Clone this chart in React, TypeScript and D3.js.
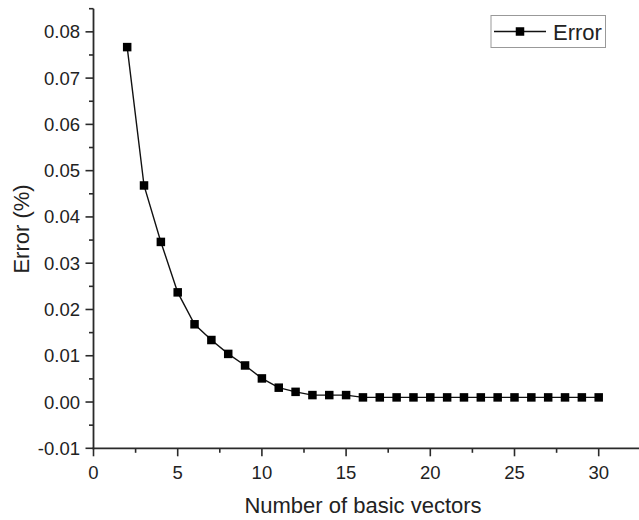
import React from "react";
import * as d3 from "d3";

const xValues = [2, 3, 4, 5, 6, 7, 8, 9, 10, 11, 12, 13, 14, 15, 16, 17, 18, 19, 20, 21, 22, 23, 24, 25, 26, 27, 28, 29, 30];
const errorValues = [
  0.0767, 0.0468, 0.0346, 0.0237, 0.0168, 0.0134, 0.0104, 0.0079, 0.0051, 0.0031, 0.0022,
  0.0015, 0.0015, 0.0015,
  0.001, 0.001, 0.001, 0.001, 0.001, 0.001, 0.001, 0.001, 0.001, 0.001, 0.001, 0.001, 0.001, 0.001, 0.001,
];
const xMajorTicks = [0, 5, 10, 15, 20, 25, 30];
const xMinorTicks = [2.5, 7.5, 12.5, 17.5, 22.5, 27.5, 32.5];
const yMajorTicks = [-0.01, 0, 0.01, 0.02, 0.03, 0.04, 0.05, 0.06, 0.07, 0.08];
const yMinorTicks = [-0.005, 0.005, 0.015, 0.025, 0.035, 0.045, 0.055, 0.065, 0.075, 0.085];
const seriesName = "Error";
const xTitle = "Number of basic vectors";
const yTitle = "Error (%)";

const W = 639;
const H = 520;
const FONT = "'Liberation Sans', Arial, sans-serif";

const fmtY = (t: number) => d3.format(".2f")(t).replace("\u2212", "-");

export default function App() {
  const x = d3.scaleLinear().domain([0, 32.5]).range([93.5, 640.8]);
  const y = d3.scaleLinear().domain([-0.01, 0.085]).range([448.3, 8.7]);
  const data = xValues.map((v, i) => ({ x: v, y: errorValues[i] }));
  const line = d3
    .line<{ x: number; y: number }>()
    .x((d) => x(d.x))
    .y((d) => y(d.y));
  const axisColor = "#2a2a2a";
  const ms = 8.5;

  return (
    <svg
      width={W}
      height={H}
      style={{ position: "absolute", left: 0, top: 0, background: "#fff" }}
      fontFamily={FONT}
    >
      {/* data line */}
      <path d={line(data) || ""} fill="none" stroke="#111" strokeWidth={1.4} />
      {data.map((d, i) => (
        <rect key={i} x={x(d.x) - ms / 2} y={y(d.y) - ms / 2} width={ms} height={ms} fill="#000" />
      ))}

      {/* y axis */}
      <line x1={x(0)} x2={x(0)} y1={y(-0.01) + 1} y2={y(0.085)} stroke={axisColor} strokeWidth={1.8} />
      {yMajorTicks.map((t) => (
        <g key={"ym" + t}>
          <line x1={x(0) - 8} x2={x(0)} y1={y(t)} y2={y(t)} stroke={axisColor} strokeWidth={1.6} />
          <text x={80} y={y(t)} dy="0.35em" textAnchor="end" fontSize={18.5} fill="#222">
            {fmtY(t)}
          </text>
        </g>
      ))}
      {yMinorTicks.map((t) => (
        <line key={"yn" + t} x1={x(0) - 4.5} x2={x(0)} y1={y(t)} y2={y(t)} stroke={axisColor} strokeWidth={1.6} />
      ))}

      {/* x axis */}
      <line x1={x(0) - 1} x2={W + 2} y1={y(-0.01)} y2={y(-0.01)} stroke={axisColor} strokeWidth={1.8} />
      {xMajorTicks.map((t) => (
        <g key={"xm" + t}>
          <line x1={x(t)} x2={x(t)} y1={y(-0.01)} y2={y(-0.01) + 8} stroke={axisColor} strokeWidth={1.6} />
          <text x={x(t)} y={479} textAnchor="middle" fontSize={18.5} fill="#222">
            {t}
          </text>
        </g>
      ))}
      {xMinorTicks.map((t) => (
        <line key={"xn" + t} x1={x(t)} x2={x(t)} y1={y(-0.01)} y2={y(-0.01) + 4.5} stroke={axisColor} strokeWidth={1.6} />
      ))}

      {/* titles */}
      <text x={363} y={512.5} textAnchor="middle" fontSize={22} fill="#222">
        {xTitle}
      </text>
      <text transform={`translate(28.5,229) rotate(-90)`} textAnchor="middle" fontSize={22} fill="#222">
        {yTitle}
      </text>

      {/* legend */}
      <rect x={491} y={15.5} width={114.5} height={32} fill="#fff" stroke="#999" strokeWidth={1} />
      <line x1={494} x2={546} y1={31.5} y2={31.5} stroke="#111" strokeWidth={1.4} />
      <rect x={520 - ms / 2} y={31.5 - ms / 2} width={ms} height={ms} fill="#000" />
      <text x={553} y={39.5} fontSize={22} fill="#222">
        {seriesName}
      </text>
    </svg>
  );
}
